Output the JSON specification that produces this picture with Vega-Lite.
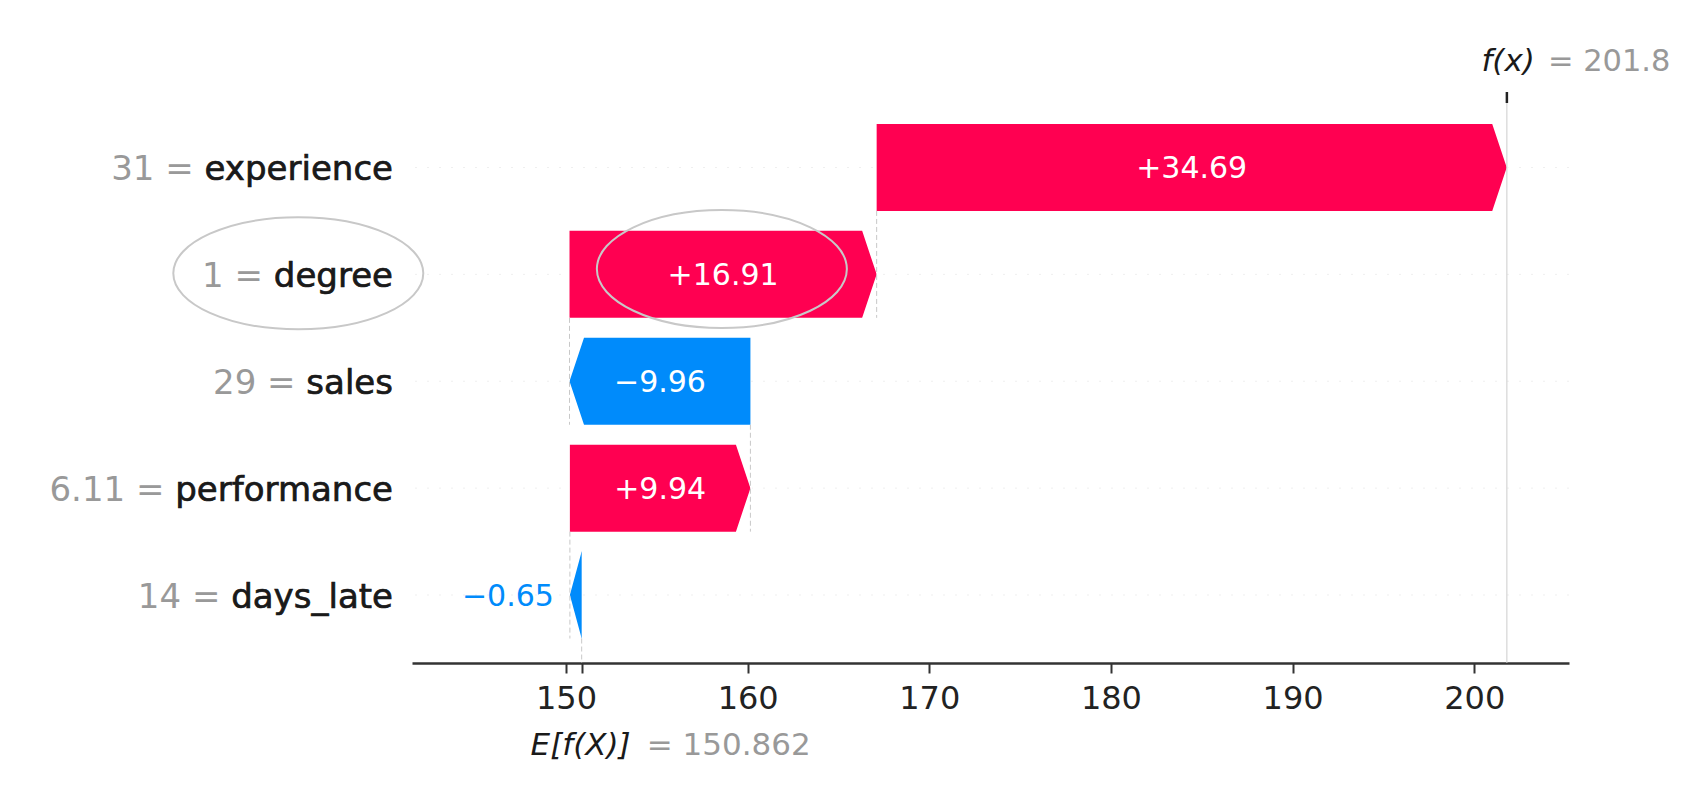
{
  "$schema": "https://vega.github.io/schema/vega-lite/v6.json",
  "width": 1157,
  "height": 560,
  "autosize": {"type": "none"},
  "padding": {"left": 412, "top": 103, "right": 119, "bottom": 142},
  "background": "white",
  "config": {"view": {"stroke": null}, "font": "DejaVu Sans", "text": {"font": "DejaVu Sans"}, "scale": {"continuousPadding": 0}},
  "datasets": {
    "features": [
      {"feature": "experience", "value": "31", "desc": "31 = experience", "row": 0, "shap": 34.69, "start": 167.102, "end": 201.792, "label": "+34.69"},
      {"feature": "degree", "value": "1", "desc": "1 = degree", "row": 1, "shap": 16.91, "start": 150.192, "end": 167.102, "label": "+16.91"},
      {"feature": "sales", "value": "29", "desc": "29 = sales", "row": 2, "shap": -9.96, "start": 160.152, "end": 150.192, "label": "−9.96"},
      {"feature": "performance", "value": "6.11", "desc": "6.11 = performance", "row": 3, "shap": 9.94, "start": 150.212, "end": 160.152, "label": "+9.94"},
      {"feature": "days_late", "value": "14", "desc": "14 = days_late", "row": 4, "shap": -0.65, "start": 150.862, "end": 150.212, "label": "−0.65"}
    ],
    "model": [
      {"base": 150.862, "fx": 201.8, "baseText": "= 150.862", "fxText": "= 201.8"}
    ],
    "annotations": [
      {"target": "label", "x": 135.26, "row": 0.99},
      {"target": "bar", "x": 158.58, "row": 0.95}
    ]
  },
  "layer": [
    {
      "data": {"name": "features"},
      "mark": {"type": "rule", "color": "#efefef", "strokeWidth": 1, "strokeDash": [2, 10]},
      "encoding": {
        "y": {"field": "row", "type": "quantitative", "scale": {"domain": [4.636, -0.603], "nice": false, "zero": false, "padding": 0}, "axis": null}
      }
    },
    {
      "data": {"name": "features"},
      "mark": {"type": "bar"},
      "encoding": {
        "x": {
          "field": "start", "type": "quantitative",
          "scale": {"domain": [141.52, 205.22], "nice": false, "zero": false, "padding": 0},
          "axis": {
            "title": null, "grid": false,
            "values": [150, 160, 170, 180, 190, 200, 150.862],
            "labelExpr": "datum.value > 150.5 && datum.value < 151 ? '' : datum.label",
            "labelOverlap": false, "labelFlush": false,
            "labelFont": "DejaVu Sans", "labelFontSize": 32, "labelColor": "#222222", "labelPadding": 10,
            "domainColor": "#333333", "domainWidth": 2.5,
            "tickColor": "#333333", "tickWidth": 2, "tickSize": 10
          }
        },
        "x2": {"field": "end"},
        "y": {"field": "row", "type": "quantitative", "scale": {"domain": [4.636, -0.603], "nice": false, "zero": false, "padding": 0}, "axis": null},
        "size": {"value": 87},
        "color": {"condition": {"test": "datum.shap > 0", "value": "#ff0051"}, "value": "#008bfb"}
      }
    },
    {
      "data": {"name": "features"},
      "transform": [{"filter": "datum.shap > 0"}],
      "mark": {"type": "point", "filled": true, "color": "white", "opacity": 1, "strokeWidth": 0, "size": 7569,
        "shape": "M -0.3333 -1 L 0 0 L -0.3333 1 L -0.3333 1.08 L 0.04 1.08 L 0.04 -1.08 L -0.3333 -1.08 Z"},
      "encoding": {
        "x": {"field": "end", "type": "quantitative", "scale": {"domain": [141.52, 205.22], "nice": false, "zero": false, "padding": 0}},
        "y": {"field": "row", "type": "quantitative", "scale": {"domain": [4.636, -0.603], "nice": false, "zero": false, "padding": 0}, "axis": null}
      }
    },
    {
      "data": {"name": "features"},
      "transform": [{"filter": "datum.shap < -0.8"}],
      "mark": {"type": "point", "filled": true, "color": "white", "opacity": 1, "strokeWidth": 0, "size": 7569,
        "shape": "M 0.3333 -1 L 0 0 L 0.3333 1 L 0.3333 1.08 L -0.04 1.08 L -0.04 -1.08 L 0.3333 -1.08 Z"},
      "encoding": {
        "x": {"field": "end", "type": "quantitative", "scale": {"domain": [141.52, 205.22], "nice": false, "zero": false, "padding": 0}},
        "y": {"field": "row", "type": "quantitative", "scale": {"domain": [4.636, -0.603], "nice": false, "zero": false, "padding": 0}, "axis": null}
      }
    },
    {
      "data": {"name": "features"},
      "transform": [{"filter": "datum.shap < 0 && datum.shap >= -0.8"}],
      "mark": {"type": "point", "filled": true, "color": "white", "opacity": 1, "strokeWidth": 0, "size": 7569,
        "shape": "M 0.2713 -1 L 0 0 L 0.2713 1 L 0.2713 1.08 L -0.04 1.08 L -0.04 -1.08 L 0.2713 -1.08 Z"},
      "encoding": {
        "x": {"field": "end", "type": "quantitative", "scale": {"domain": [141.52, 205.22], "nice": false, "zero": false, "padding": 0}},
        "y": {"field": "row", "type": "quantitative", "scale": {"domain": [4.636, -0.603], "nice": false, "zero": false, "padding": 0}, "axis": null}
      }
    },
    {
      "data": {"name": "features"},
      "transform": [
        {"window": [{"op": "lead", "field": "row", "as": "nextRow"}], "sort": [{"field": "row", "order": "ascending"}]},
        {"filter": "datum.nextRow != null"}
      ],
      "mark": {"type": "rule", "color": "#c8c8c8", "strokeWidth": 1, "strokeDash": [5, 3], "yOffset": 43.5, "y2Offset": 43.5},
      "encoding": {
        "x": {"field": "start", "type": "quantitative", "scale": {"domain": [141.52, 205.22], "nice": false, "zero": false, "padding": 0}},
        "y": {"field": "row", "type": "quantitative", "scale": {"domain": [4.636, -0.603], "nice": false, "zero": false, "padding": 0}, "axis": null},
        "y2": {"field": "nextRow"}
      }
    },
    {
      "data": {"name": "model"},
      "mark": {"type": "rule", "color": "#cccccc", "strokeWidth": 1},
      "encoding": {
        "x": {"field": "fx", "type": "quantitative", "scale": {"domain": [141.52, 205.22], "nice": false, "zero": false, "padding": 0}}
      }
    },
    {
      "data": {"name": "model"},
      "mark": {"type": "rule", "color": "#222222", "strokeWidth": 2.5, "y2Offset": -11},
      "encoding": {
        "x": {"field": "fx", "type": "quantitative", "scale": {"domain": [141.52, 205.22], "nice": false, "zero": false, "padding": 0}},
        "y": {"datum": -0.603, "type": "quantitative", "scale": {"domain": [4.636, -0.603], "nice": false, "zero": false, "padding": 0}, "axis": null},
        "y2": {"datum": -0.603}
      }
    },
    {
      "data": {"name": "model"},
      "mark": {"type": "rule", "color": "#c8c8c8", "strokeWidth": 1, "strokeDash": [5, 3], "yOffset": 43.5},
      "encoding": {
        "x": {"field": "base", "type": "quantitative", "scale": {"domain": [141.52, 205.22], "nice": false, "zero": false, "padding": 0}},
        "y": {"datum": 4, "type": "quantitative", "scale": {"domain": [4.636, -0.603], "nice": false, "zero": false, "padding": 0}, "axis": null},
        "y2": {"datum": 4.636}
      }
    },
    {
      "data": {"name": "features"},
      "mark": {"type": "text", "align": "right", "baseline": "middle", "dx": -19, "dy": 3, "fontSize": 34, "font": "DejaVu Sans", "color": "#999999"},
      "encoding": {
        "x": {"datum": 141.52, "type": "quantitative", "scale": {"domain": [141.52, 205.22], "nice": false, "zero": false, "padding": 0}},
        "y": {"field": "row", "type": "quantitative", "scale": {"domain": [4.636, -0.603], "nice": false, "zero": false, "padding": 0}, "axis": null},
        "text": {"field": "desc"}
      }
    },
    {
      "data": {"name": "features"},
      "mark": {"type": "text", "align": "right", "baseline": "middle", "dx": -19, "dy": 3, "fontSize": 34, "font": "DejaVu Sans", "color": "#1a1a1a", "stroke": "#1a1a1a", "strokeWidth": 0.6},
      "encoding": {
        "x": {"datum": 141.52, "type": "quantitative", "scale": {"domain": [141.52, 205.22], "nice": false, "zero": false, "padding": 0}},
        "y": {"field": "row", "type": "quantitative", "scale": {"domain": [4.636, -0.603], "nice": false, "zero": false, "padding": 0}, "axis": null},
        "text": {"field": "feature"}
      }
    },
    {
      "data": {"name": "features"},
      "transform": [
        {"filter": "abs(datum.shap) > 1"},
        {"fold": ["start", "end"], "as": ["edge", "pos"]},
        {"aggregate": [{"op": "mean", "field": "pos", "as": "mid"}], "groupby": ["feature", "row", "label"]}
      ],
      "mark": {"type": "text", "align": "center", "baseline": "middle", "dy": 2, "fontSize": 30, "font": "DejaVu Sans", "color": "white"},
      "encoding": {
        "x": {"field": "mid", "type": "quantitative", "scale": {"domain": [141.52, 205.22], "nice": false, "zero": false, "padding": 0}},
        "y": {"field": "row", "type": "quantitative", "scale": {"domain": [4.636, -0.603], "nice": false, "zero": false, "padding": 0}, "axis": null},
        "text": {"field": "label"}
      }
    },
    {
      "data": {"name": "features"},
      "transform": [{"filter": "abs(datum.shap) <= 1"}],
      "mark": {"type": "text", "align": "right", "baseline": "middle", "dx": -16, "dy": 2, "fontSize": 30, "font": "DejaVu Sans", "color": "#008bfb"},
      "encoding": {
        "x": {"field": "end", "type": "quantitative", "scale": {"domain": [141.52, 205.22], "nice": false, "zero": false, "padding": 0}},
        "y": {"field": "row", "type": "quantitative", "scale": {"domain": [4.636, -0.603], "nice": false, "zero": false, "padding": 0}, "axis": null},
        "text": {"field": "label"}
      }
    },
    {
      "data": {"name": "model"},
      "mark": {"type": "text", "align": "right", "baseline": "alphabetic", "dx": 28, "dy": -32, "fontSize": 31, "font": "DejaVu Sans", "fontStyle": "italic", "color": "#1a1a1a", "text": "f(x)"},
      "encoding": {
        "x": {"field": "fx", "type": "quantitative", "scale": {"domain": [141.52, 205.22], "nice": false, "zero": false, "padding": 0}},
        "y": {"datum": -0.603, "type": "quantitative", "scale": {"domain": [4.636, -0.603], "nice": false, "zero": false, "padding": 0}, "axis": null}
      }
    },
    {
      "data": {"name": "model"},
      "mark": {"type": "text", "align": "left", "baseline": "alphabetic", "dx": 41, "dy": -32, "fontSize": 30.5, "font": "DejaVu Sans", "color": "#999999"},
      "encoding": {
        "x": {"field": "fx", "type": "quantitative", "scale": {"domain": [141.52, 205.22], "nice": false, "zero": false, "padding": 0}},
        "y": {"datum": -0.603, "type": "quantitative", "scale": {"domain": [4.636, -0.603], "nice": false, "zero": false, "padding": 0}, "axis": null},
        "text": {"field": "fxText"}
      }
    },
    {
      "data": {"name": "model"},
      "mark": {"type": "text", "align": "right", "baseline": "alphabetic", "dx": 49, "dy": 92, "fontSize": 31, "font": "DejaVu Sans", "fontStyle": "italic", "color": "#1a1a1a", "text": "E[f(X)]"},
      "encoding": {
        "x": {"field": "base", "type": "quantitative", "scale": {"domain": [141.52, 205.22], "nice": false, "zero": false, "padding": 0}},
        "y": {"datum": 4.636, "type": "quantitative", "scale": {"domain": [4.636, -0.603], "nice": false, "zero": false, "padding": 0}, "axis": null}
      }
    },
    {
      "data": {"name": "model"},
      "mark": {"type": "text", "align": "left", "baseline": "alphabetic", "dx": 65, "dy": 92, "fontSize": 31, "font": "DejaVu Sans", "color": "#999999"},
      "encoding": {
        "x": {"field": "base", "type": "quantitative", "scale": {"domain": [141.52, 205.22], "nice": false, "zero": false, "padding": 0}},
        "y": {"datum": 4.636, "type": "quantitative", "scale": {"domain": [4.636, -0.603], "nice": false, "zero": false, "padding": 0}, "axis": null},
        "text": {"field": "baseText"}
      }
    },
    {
      "data": {"name": "annotations"},
      "transform": [{"filter": "datum.target == 'label'"}],
      "mark": {"type": "point", "filled": false, "color": "#c8c8c8", "opacity": 1, "strokeWidth": 2, "size": 62500,
        "shape": "M -1 0 C -1 -0.2474 -0.5523 -0.448 0 -0.448 C 0.5523 -0.448 1 -0.2474 1 0 C 1 0.2474 0.5523 0.448 0 0.448 C -0.5523 0.448 -1 0.2474 -1 0 Z"},
      "encoding": {
        "x": {"field": "x", "type": "quantitative", "scale": {"domain": [141.52, 205.22], "nice": false, "zero": false, "padding": 0}},
        "y": {"field": "row", "type": "quantitative", "scale": {"domain": [4.636, -0.603], "nice": false, "zero": false, "padding": 0}, "axis": null}
      }
    },
    {
      "data": {"name": "annotations"},
      "transform": [{"filter": "datum.target == 'bar'"}],
      "mark": {"type": "point", "filled": false, "color": "#c8c8c8", "opacity": 1, "strokeWidth": 2, "size": 62500,
        "shape": "M -1 0 C -1 -0.2607 -0.5523 -0.472 0 -0.472 C 0.5523 -0.472 1 -0.2607 1 0 C 1 0.2607 0.5523 0.472 0 0.472 C -0.5523 0.472 -1 0.2607 -1 0 Z"},
      "encoding": {
        "x": {"field": "x", "type": "quantitative", "scale": {"domain": [141.52, 205.22], "nice": false, "zero": false, "padding": 0}},
        "y": {"field": "row", "type": "quantitative", "scale": {"domain": [4.636, -0.603], "nice": false, "zero": false, "padding": 0}, "axis": null}
      }
    }
  ]
}
